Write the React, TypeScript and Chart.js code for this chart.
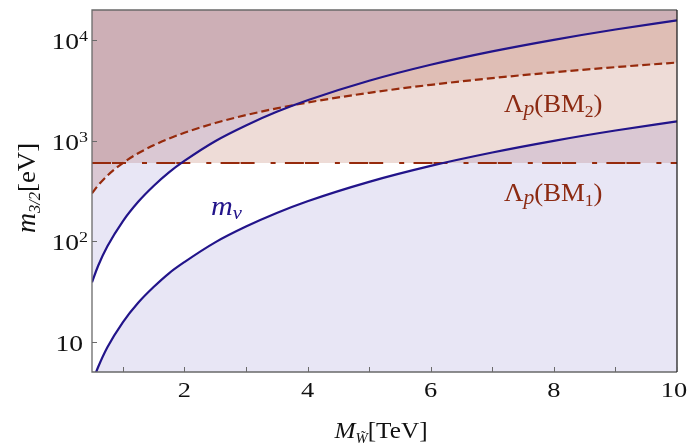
import React, { useEffect, useRef } from "react";
import { Chart, registerables } from "chart.js";

Chart.register(...registerables);

// M_W [TeV] sample points
const massTeV = [0.5, 0.6, 0.75, 1, 1.25, 1.5, 1.75, 2, 2.5, 3, 3.5, 4, 5, 6, 7, 8, 9, 10];
// upper m_nu boundary [eV]
const mNuUpper = [39, 57, 89, 158, 247, 355, 485, 630, 990, 1420, 1940, 2530, 3950, 5700, 7750, 10100, 12800, 15800];
// lower m_nu boundary [eV]
const mNuLower = [3.9, 5.6, 8.8, 15.6, 24.4, 35, 48, 62, 97.5, 140, 191, 250, 390, 562, 764, 998, 1264, 1560];
// Lambda_p(BM2) bound [eV]
const lambdaBM2 = [300, 360, 450, 600, 750, 900, 1050, 1200, 1500, 1800, 2100, 2400, 3000, 3600, 4200, 4800, 5400, 6000];
// Lambda_p(BM1) bound [eV]
const bm1X = [0.5, 10];
const bm1Y = [600, 600];

const xTicks = [1, 2, 3, 4, 5, 6, 7, 8, 9, 10];
const xTickLabels = ["", "2", "", "4", "", "6", "", "8", "", "10"];
const yTicks = [10, 100, 1000, 10000];
const yTickBase = ["10", "10", "10", "10"];
const yTickSup = ["", "2", "3", "4"];

const BLUE = "#22148a";
const RED = "#962a0c";
const TEXT_RED = "#8c2a12";
const PURPLE_FILL = "rgba(100,90,190,0.15)";
const RED_FILL = "rgba(150,40,10,0.165)";
const SERIF = "'Liberation Serif', 'Times New Roman', serif";

type Part = { text: string; font: string; dy?: number };

function drawRich(ctx: CanvasRenderingContext2D, parts: Part[], x: number, y: number, align: string, color: string, sx = 1) {
  ctx.save();
  let w = 0;
  const widths: number[] = [];
  for (const p of parts) {
    ctx.font = p.font;
    const m = ctx.measureText(p.text).width;
    widths.push(m);
    w += m;
  }
  const tw = w * sx;
  const startX = align === "right" ? x - tw : align === "center" ? x - tw / 2 : x;
  ctx.translate(startX, y);
  ctx.scale(sx, 1);
  ctx.fillStyle = color;
  ctx.textAlign = "left";
  ctx.textBaseline = "alphabetic";
  let cx = 0;
  parts.forEach((p, i) => {
    ctx.font = p.font;
    ctx.fillText(p.text, cx, p.dy || 0);
    cx += widths[i];
  });
  ctx.restore();
}

const decorPlugin = {
  id: "decor",
  afterDraw(chart: any) {
    const ctx: CanvasRenderingContext2D = chart.ctx;
    const xs = chart.scales.x;
    const ys = chart.scales.y;
    const a = chart.chartArea;
    ctx.save();
    // frame
    ctx.lineWidth = 1.3;
    ctx.strokeStyle = "#6a6a6a";
    ctx.beginPath();
    ctx.moveTo(a.right, a.top);
    ctx.lineTo(a.left, a.top);
    ctx.lineTo(a.left, a.bottom);
    ctx.lineTo(a.right, a.bottom);
    ctx.stroke();
    ctx.strokeStyle = "#222";
    ctx.beginPath();
    ctx.moveTo(a.right, a.top);
    ctx.lineTo(a.right, a.bottom);
    ctx.stroke();
    // ticks
    ctx.strokeStyle = "#6a6a6a";
    ctx.lineWidth = 1;
    ctx.beginPath();
    xTicks.forEach((v) => {
      const px = Math.round(xs.getPixelForValue(v)) + 0.5;
      ctx.moveTo(px, a.bottom);
      ctx.lineTo(px, a.bottom - 5);
    });
    yTicks.forEach((v) => {
      const py = Math.round(ys.getPixelForValue(v)) + 0.5;
      ctx.moveTo(a.left, py);
      ctx.lineTo(a.left + 5, py);
    });
    ctx.stroke();
    ctx.restore();

    const big = (s: number, it = false) => `${it ? "italic " : ""}${s}px ${SERIF}`;
    // x tick labels
    xTicks.forEach((v, i) => {
      if (!xTickLabels[i]) return;
      const px = xs.getPixelForValue(v) - (v === 10 ? 3 : 0);
      drawRich(ctx, [{ text: xTickLabels[i], font: big(22) }], px, 397, "center", "#111", 1.2);
    });
    // y tick labels
    yTicks.forEach((v, i) => {
      const py = ys.getPixelForValue(v);
      const parts: Part[] = [{ text: yTickBase[i], font: big(23) }];
      let right = 83;
      if (yTickSup[i]) {
        parts.push({ text: yTickSup[i], font: big(15), dy: -8 });
        right = 88;
      }
      drawRich(ctx, parts, right, py + 9, "right", "#111", 1.2);
    });
    // axis titles
    drawRich(
      ctx,
      [
        { text: "M", font: big(24, true) },
        { text: "W\u0303", font: big(14, true), dy: 5 },
        { text: "[TeV]", font: big(24) },
      ],
      381,
      438,
      "center",
      "#111",
      1.05
    );
    ctx.save();
    ctx.translate(35, 188);
    ctx.rotate(-Math.PI / 2);
    drawRich(
      ctx,
      [
        { text: "m", font: big(27, true) },
        { text: "3/2", font: big(16, true), dy: 5 },
        { text: "[eV]", font: big(26) },
      ],
      0,
      0,
      "center",
      "#111",
      1.03
    );
    ctx.restore();
    // annotations
    const lam = (sub: string): Part[] => [
      { text: "\u039B", font: big(26) },
      { text: "p", font: big(21, true), dy: 3 },
      { text: "(BM", font: big(26) },
      { text: sub, font: big(17), dy: 5 },
      { text: ")", font: big(26) },
    ];
    drawRich(ctx, lam("2"), 504, 112, "left", TEXT_RED, 1.03);
    drawRich(ctx, lam("1"), 504, 201, "left", TEXT_RED, 1.03);
    drawRich(
      ctx,
      [
        { text: "m", font: big(28, true) },
        { text: "\u03BD", font: big(19, true), dy: 4 },
      ],
      211,
      215,
      "left",
      BLUE,
      1.08
    );
  },
};

export default function App() {
  const ref = useRef<HTMLCanvasElement | null>(null);
  useEffect(() => {
    document.body.style.margin = "0";
    const pts = (ys: number[]) => massTeV.map((x, i) => ({ x, y: ys[i] }));
    const chart = new Chart(ref.current as HTMLCanvasElement, {
      type: "line",
      data: {
        datasets: [
          {
            data: pts(mNuUpper),
            borderColor: BLUE,
            borderWidth: 2.2,
            fill: "end",
            backgroundColor: PURPLE_FILL,
            pointRadius: 0,
            cubicInterpolationMode: "monotone",
          },
          {
            data: pts(mNuLower),
            borderColor: BLUE,
            borderWidth: 2.2,
            fill: "start",
            backgroundColor: PURPLE_FILL,
            pointRadius: 0,
            cubicInterpolationMode: "monotone",
          },
          {
            data: pts(lambdaBM2),
            borderColor: RED,
            borderWidth: 2.2,
            borderDash: [8, 4],
            fill: "end",
            backgroundColor: RED_FILL,
            pointRadius: 0,
            cubicInterpolationMode: "monotone",
          },
          {
            data: bm1X.map((x, i) => ({ x, y: bm1Y[i] })),
            borderColor: RED,
            borderWidth: 2,
            borderDash: [19, 1, 14, 16, 5, 9.3],
            fill: "end",
            backgroundColor: RED_FILL,
            pointRadius: 0,
          },
        ],
      } as any,
      options: {
        responsive: false,
        animation: false,
        devicePixelRatio: 1,
        layout: { padding: { left: 92, right: 15, top: 10, bottom: 73 } },
        plugins: {
          legend: { display: false },
          tooltip: { enabled: false },
          filler: { drawTime: "beforeDatasetsDraw" },
        } as any,
        scales: {
          x: { type: "linear", min: 0.5, max: 10, display: false },
          y: { type: "logarithmic", min: 5, max: 20000, display: false },
        },
      },
      plugins: [decorPlugin],
    });
    return () => chart.destroy();
  }, []);
  return (
    <div style={{ width: 692, height: 445 }}>
      <canvas ref={ref} width={692} height={445} style={{ display: "block" }} />
    </div>
  );
}
